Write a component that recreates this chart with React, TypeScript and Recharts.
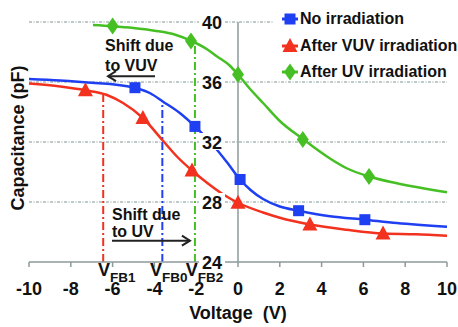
import React from 'react';
import {
  ComposedChart,
  Line,
  Scatter,
  XAxis,
  YAxis,
  ReferenceLine,
  ReferenceDot,
  Legend,
} from 'recharts';

const FONT = '"Liberation Sans", Arial, Helvetica, sans-serif';
const BLUE = '#1f3ff2';
const RED = '#f2321e';
const GREEN = '#46bf24';
const AXIS = '#8c9a9a';
const GRID = '#7e9696';
const INK = '#111';

const xTicks = [-10, -8, -6, -4, -2, 0, 2, 4, 6, 8, 10];
const yTicks = [24, 28, 32, 36, 40];
const gridValues = [28, 32, 36, 40];

// measured C-V curves, [voltage, capacitance]
const noIrrCurve = [
  [-10, 36.2], [-8.5, 36.1], [-7, 35.95], [-6, 35.85], [-4.93, 35.62], [-4.2, 35.25],
  [-3.6, 34.7], [-2.8, 33.95], [-2.06, 33.04], [-1.2, 31.8], [-0.5, 30.6], [0.1, 29.5],
  [0.6, 28.8], [1.2, 28.2], [2.0, 27.7], [2.9, 27.42], [4.4, 27.05], [6.07, 26.82],
  [7.6, 26.6], [10, 26.35],
];
const vuvCurve = [
  [-10, 35.9], [-8.5, 35.7], [-7.3, 35.45], [-6.3, 35.15], [-5.5, 34.6], [-4.55, 33.6],
  [-3.6, 32.1], [-2.9, 31.0], [-2.2, 30.1], [-1.5, 29.3], [-0.7, 28.5], [0, 27.95],
  [1.2, 27.3], [2.0, 26.95], [3.44, 26.5], [5.2, 26.15], [6.94, 25.9], [8.5, 25.85],
  [10, 25.75],
];
const uvCurve = [
  [-6.94, 39.8], [-6, 39.72], [-5, 39.6], [-4, 39.42], [-3, 39.15], [-2.25, 38.75],
  [-1.5, 38.2], [-1, 37.7], [-0.4, 37.1], [0, 36.5], [0.6, 35.5], [1.2, 34.6],
  [2, 33.4], [3.1, 32.2], [4.4, 30.9], [5.2, 30.25], [6.27, 29.7], [7.6, 29.25],
  [10, 28.65],
];

// marker positions
const noIrrMarks = [[-4.93, 35.62], [-2.06, 33.04], [0.1, 29.5], [2.9, 27.42], [6.07, 26.82]];
const vuvMarks = [[-7.3, 35.45], [-4.55, 33.6], [-2.2, 30.1], [0, 27.95], [3.44, 26.5], [6.94, 25.9]];
const uvMarks = [[-6, 39.73], [-2.25, 38.73], [0, 36.5], [3.1, 32.17], [6.27, 29.7]];

// flat-band voltages: x, top of the drop line, label start, subscript
const vfbLines = [
  { x: -6.45, top: 35.15, labelX: -6.7, sub: 'FB1', color: RED },
  { x: -3.62, top: 34.7, labelX: -4.21, sub: 'FB0', color: BLUE },
  { x: -2.06, top: 38.65, labelX: -2.5, sub: 'FB2', color: GREEN },
];

const notes = [
  { x: -6.36, y: 38.06, gap: 20, lines: ['Shift due', 'to VUV'] },
  { x: -6.03, y: 26.82, gap: 17, lines: ['Shift due', 'to UV'] },
];
const arrows = [
  { y: 36.39, from: -3.97, to: -6.22 },
  { y: 25.42, from: -6.03, to: -2.3 },
];

const toPts = (arr: number[][]) => arr.map(([x, y]) => ({ x, y }));

type Shape = 'square' | 'triangle' | 'diamond';

function Marker({ cx, cy, fill, shape }: { cx: number; cy: number; fill: string; shape: Shape }) {
  if (shape === 'square') return <rect x={cx - 5.5} y={cy - 5.5} width={11} height={11} fill={fill} />;
  if (shape === 'triangle')
    return <polygon points={`${cx},${cy - 8} ${cx + 7.5},${cy + 6} ${cx - 7.5},${cy + 6}`} fill={fill} />;
  return <polygon points={`${cx},${cy - 8.5} ${cx + 6},${cy} ${cx},${cy + 8.5} ${cx - 6},${cy}`} fill={fill} />;
}

const series = [
  { name: 'No irradiation', color: BLUE, shape: 'square' as Shape, curve: noIrrCurve, marks: noIrrMarks },
  { name: 'After VUV irradiation', color: RED, shape: 'triangle' as Shape, curve: vuvCurve, marks: vuvMarks },
  { name: 'After UV irradiation', color: GREEN, shape: 'diamond' as Shape, curve: uvCurve, marks: uvMarks },
];

function LegendBox() {
  return (
    <div style={{ background: '#fff', paddingLeft: 7, paddingTop: 2, height: 74, boxSizing: 'border-box' }}>
      {series.map((s) => (
        <div key={s.name} style={{ display: 'flex', alignItems: 'center', height: 26.5 }}>
          <svg width={20} height={20}>
            <line x1={2} y1={10} x2={18} y2={10} stroke={s.color} strokeWidth={3} />
            <Marker cx={10} cy={10} fill={s.color} shape={s.shape} />
          </svg>
          <span style={{ fontFamily: FONT, fontWeight: 700, fontSize: 16, color: INK }}>{s.name}</span>
        </div>
      ))}
    </div>
  );
}

const textStyle = { fontFamily: FONT, fontWeight: 700, fill: INK } as const;

export default function App() {
  return (
    <div style={{ position: 'absolute', left: 0, top: 0, background: '#fff' }}>
      <ComposedChart width={458} height={327} margin={{ top: 22, right: 11, left: 0, bottom: 0 }}>
        <XAxis
          type="number"
          dataKey="x"
          domain={[-10, 10]}
          ticks={xTicks}
          stroke={AXIS}
          strokeWidth={1.5}
          tickSize={5}
          tickMargin={15}
          height={65}
          tick={{ ...textStyle, fontSize: 18 }}
          label={(p: any) => {
            const vb = p.viewBox;
            return (
              <text x={vb.x + vb.width / 2} y={vb.y + vb.height - 8} textAnchor="middle" style={{ ...textStyle, fontSize: 18 }}>
                {'Voltage\u00a0\u00a0(V)'}
              </text>
            );
          }}
        />
        <YAxis
          type="number"
          dataKey="y"
          domain={[24, 40]}
          ticks={yTicks}
          width={29}
          tick={false}
          tickLine={false}
          axisLine={false}
          label={() => {
            const cx = 24;
            const cy = 138;
            return (
              <text x={cx} y={cy} textAnchor="middle" transform={`rotate(-90 ${cx} ${cy})`} style={{ ...textStyle, fontSize: 18 }}>
                Capacitance (pF)
              </text>
            );
          }}
        />
        {gridValues.map((v) => (
          <ReferenceLine key={`g${v}`} y={v} stroke={GRID} strokeWidth={1} strokeDasharray="3 1.5 1 1.5" />
        ))}
        <ReferenceLine x={0} stroke={AXIS} strokeWidth={1.5} />
        {yTicks.map((v) => (
          <ReferenceDot
            key={`t${v}`}
            x={0}
            y={v}
            r={0}
            fill="none"
            stroke="none"
            label={(p: any) => {
              const vb = p.viewBox;
              return (
                <g>
                  <rect x={vb.x - 39} y={vb.y - 9} width={26} height={17} fill="#fff" />
                  <text x={vb.x - 16} y={vb.y + 6.5} textAnchor="end" style={{ ...textStyle, fontSize: 18 }}>
                    {v}
                  </text>
                </g>
              );
            }}
          />
        ))}
        {vfbLines.map((l) => (
          <ReferenceLine
            key={l.sub}
            segment={[{ x: l.x, y: 24 }, { x: l.x, y: l.top }]}
            stroke={l.color}
            strokeWidth={2}
            strokeDasharray="8 3 2 3"
          />
        ))}
        {vfbLines.map((l) => (
          <ReferenceDot
            key={`v${l.sub}`}
            x={l.labelX}
            y={24}
            r={0}
            fill="none"
            stroke="none"
            label={(p: any) => {
              const vb = p.viewBox;
              return (
                <text x={vb.x} y={vb.y + 14} style={{ ...textStyle, fontSize: 18 }}>
                  V
                  <tspan dy={6} style={{ fontSize: 13.5 }}>
                    {l.sub}
                  </tspan>
                </text>
              );
            }}
          />
        ))}
        {arrows.map((a, i) => (
          <ReferenceLine
            key={`a${i}`}
            segment={[{ x: a.from, y: a.y }, { x: a.to, y: a.y }]}
            stroke="#222"
            strokeWidth={2}
            label={(p: any) => {
              const vb = p.viewBox;
              const left = a.to < a.from;
              const hx = left ? vb.x : vb.x + vb.width;
              const d = left ? 8 : -8;
              return (
                <path
                  d={`M${hx + d},${vb.y - 5} L${hx},${vb.y} L${hx + d},${vb.y + 5}`}
                  fill="none"
                  stroke="#222"
                  strokeWidth={2}
                />
              );
            }}
          />
        ))}
        {notes.map((n, i) => (
          <ReferenceDot
            key={`n${i}`}
            x={n.x}
            y={n.y}
            r={0}
            fill="none"
            stroke="none"
            label={(p: any) => {
              const vb = p.viewBox;
              return (
                <text style={{ ...textStyle, fontSize: 16 }}>
                  {n.lines.map((t, j) => (
                    <tspan key={j} x={vb.x} y={vb.y + j * n.gap}>
                      {t}
                    </tspan>
                  ))}
                </text>
              );
            }}
          />
        ))}
        {series.map((s) => (
          <Line
            key={s.name}
            name={s.name}
            data={toPts(s.curve)}
            dataKey="y"
            type="monotone"
            stroke={s.color}
            strokeWidth={2.5}
            dot={false}
            activeDot={false}
            isAnimationActive={false}
          />
        ))}
        {series.map((s) => (
          <Scatter
            key={`m${s.name}`}
            data={toPts(s.marks)}
            dataKey="y"
            legendType="none"
            fill={s.color}
            isAnimationActive={false}
            shape={(p: any) => <Marker cx={p.cx} cy={p.cy} fill={s.color} shape={s.shape} />}
          />
        ))}
        <Legend
          layout="vertical"
          verticalAlign="middle"
          align="center"
          content={() => <LegendBox />}
          wrapperStyle={{ position: 'absolute', top: 4, left: 273, width: 185, height: 74 }}
        />
      </ComposedChart>
    </div>
  );
}
